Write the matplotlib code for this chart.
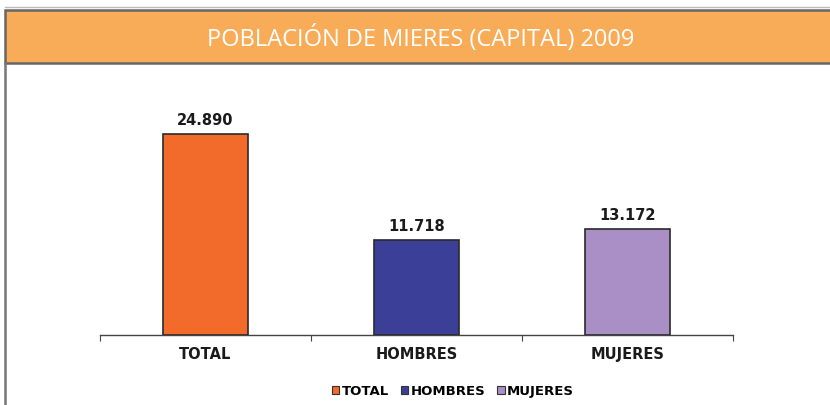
import matplotlib
matplotlib.use("Agg")
import matplotlib.pyplot as plt
from matplotlib.patches import Rectangle, Patch
from matplotlib.lines import Line2D

categories = ["TOTAL", "HOMBRES", "MUJERES"]
values = [24890, 11718, 13172]
value_labels = ["24.890", "11.718", "13.172"]
colors = ["#F26B2A", "#3C3F98", "#A98FC6"]
title = "POBLACIÓN DE MIERES (CAPITAL) 2009"

W, H = 830, 406
fig = plt.figure(figsize=(W / 100, H / 100), dpi=100)
fig.patch.set_facecolor("white")

def fx(px):
    return px / W

def fy(py):
    return 1 - py / H

# header band
fig.patches.append(Rectangle((fx(5), fy(64)), fx(830) - fx(5) + 0.01, fy(11) - fy(64),
                             transform=fig.transFigure, facecolor="#F9AC58",
                             edgecolor="#666666", linewidth=1.8, zorder=1))
fig.lines.append(Line2D([fx(5), fx(5)], [fy(64), 0], transform=fig.transFigure,
                        color="#777777", linewidth=1.8))
fig.lines.append(Line2D([fx(5), 1], [fy(8), fy(8)], transform=fig.transFigure,
                        color="#BBBBBB", linewidth=1.0))
fig.text(fx(421), fy(38), title, color="white", fontsize=17,
         family=["Open Sans", "DejaVu Sans"], fontweight="normal", ha="center", va="center")

# axes
ymax = 30000
ax_left, ax_right = 100, 733
ax_bottom = 336
ax_h = (336 - 135) * ymax / values[0]
ax = fig.add_axes([fx(ax_left), fy(ax_bottom), fx(ax_right) - fx(ax_left), ax_h / H])
ax.set_xlim(-0.5, 2.5)
ax.set_ylim(0, ymax)
x = list(range(len(categories)))
bars = ax.bar(x, values, width=0.4, color=colors, edgecolor="#2a2a2a", linewidth=1.2, zorder=3)
for xi, v, lab in zip(x, values, value_labels):
    ax.annotate(lab, (xi, v), xytext=(0, 5), textcoords="offset points",
                ha="center", va="bottom", fontsize=10.5, fontweight="bold", color="#1a1a1a")

for s in ["top", "right", "left"]:
    ax.spines[s].set_visible(False)
ax.spines["bottom"].set_color("#444444")
ax.spines["bottom"].set_linewidth(1.0)
ax.set_yticks([])
ax.set_xticks([-0.5, 0.5, 1.5, 2.5], minor=False)
ax.set_xticklabels([])
ax.tick_params(axis="x", which="major", length=4, color="#444444", direction="out")
ax.set_xticks(x, minor=True)
ax.set_xticklabels(categories, minor=True)
ax.tick_params(axis="x", which="minor", length=0, pad=8, labelsize=10.5)
for t in ax.get_xticklabels(minor=True):
    t.set_fontweight("bold")
    t.set_color("#1a1a1a")

handles = [Patch(facecolor=c, edgecolor="#333333", linewidth=0.8) for c in colors]
fig.legend(handles, categories, loc="center", bbox_to_anchor=(fx(453), fy(392)),
           ncol=3, frameon=False, handlelength=0.55, handleheight=0.55,
           handletextpad=0.2, columnspacing=0.9,
           prop={"weight": "bold", "size": 9.5})

fig.savefig("out.png", dpi=100, facecolor="white")
